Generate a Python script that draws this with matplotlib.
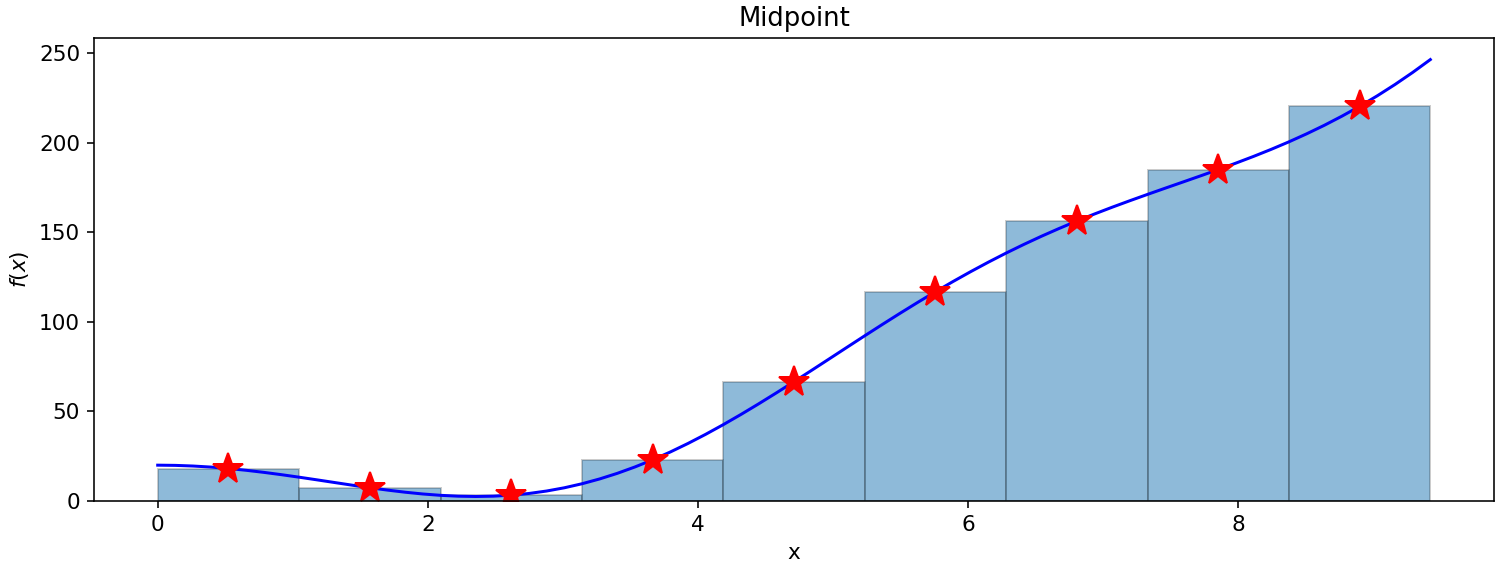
import matplotlib
matplotlib.use("Agg")
import matplotlib.pyplot as plt

plt.rcParams["font.size"] = 10.8

# curve (x from 0 to ~3*pi)
x_curve = [0.0, 0.1309, 0.2618, 0.3927, 0.5236, 0.6545, 0.7854, 0.9163, 1.0472,
           1.1781, 1.3090, 1.4399, 1.5708, 1.7017, 1.8326, 1.9635, 2.0944, 2.2253,
           2.3562, 2.4871, 2.6180, 2.7489, 2.8798, 3.0107, 3.1416, 3.2725, 3.4034,
           3.5343, 3.6652, 3.7961, 3.9270, 4.0579, 4.1888, 4.3197, 4.4506, 4.5815,
           4.7124, 4.8433, 4.9742, 5.1051, 5.2360, 5.3669, 5.4978, 5.6287, 5.7596,
           5.8905, 6.0214, 6.1523, 6.2832, 6.4141, 6.5450, 6.6759, 6.8068, 6.9377,
           7.0686, 7.1995, 7.3304, 7.4613, 7.5922, 7.7231, 7.8540, 7.9849, 8.1158,
           8.2467, 8.3776, 8.5085, 8.6394, 8.7703, 8.9012, 9.0321, 9.1630, 9.2939,
           9.4248]
y_curve = [20.00, 19.88, 19.52, 18.94, 18.14, 17.15, 15.99, 14.69, 13.29,
           11.82, 10.32, 8.83, 7.40, 6.08, 4.90, 3.91, 3.16, 2.68,
           2.51, 2.69, 3.24, 4.19, 5.56, 7.36, 9.61, 12.30, 15.43,
           19.00, 22.98, 27.36, 32.12, 37.22, 42.64, 48.33, 54.25, 60.36,
           66.62, 72.98, 79.40, 85.84, 92.25, 98.59, 104.82, 110.91, 116.84,
           122.57, 128.09, 133.38, 138.44, 143.25, 147.83, 152.18, 156.32, 160.26,
           164.04, 167.67, 171.20, 174.67, 178.10, 181.55, 185.06, 188.67, 192.42,
           196.37, 200.55, 205.01, 209.77, 214.89, 220.37, 226.26, 232.56, 239.30,
           246.48]

# midpoint rectangles
x_left = [0.0, 1.0472, 2.0944, 3.1416, 4.1888, 5.2360, 6.2832, 7.3304, 8.3776]
x_mid = [0.5236, 1.5708, 2.6180, 3.6652, 4.7124, 5.7596, 6.8068, 7.8540, 8.9012]
y_mid = [18.14, 7.40, 3.24, 22.98, 66.62, 116.84, 156.32, 185.06, 220.37]
dx = 1.0472

fig = plt.figure(figsize=(1498 / 144, 565 / 144), dpi=144)
ax = fig.add_axes([0.0628, 0.1133, 0.9345, 0.8203])
ax.plot(x_curve, y_curve, "b")
ax.plot(x_mid, y_mid, "r*", markersize=16)
ax.bar(x_left, y_mid, width=dx, align="edge",
       color=(0.122, 0.467, 0.706, 0.5), edgecolor=(0, 0, 0, 0.2))
ax.set_title("Midpoint")
ax.set_xlabel("x")
ax.set_ylabel("$f(x)$")
fig.savefig("out.png", dpi=144)
